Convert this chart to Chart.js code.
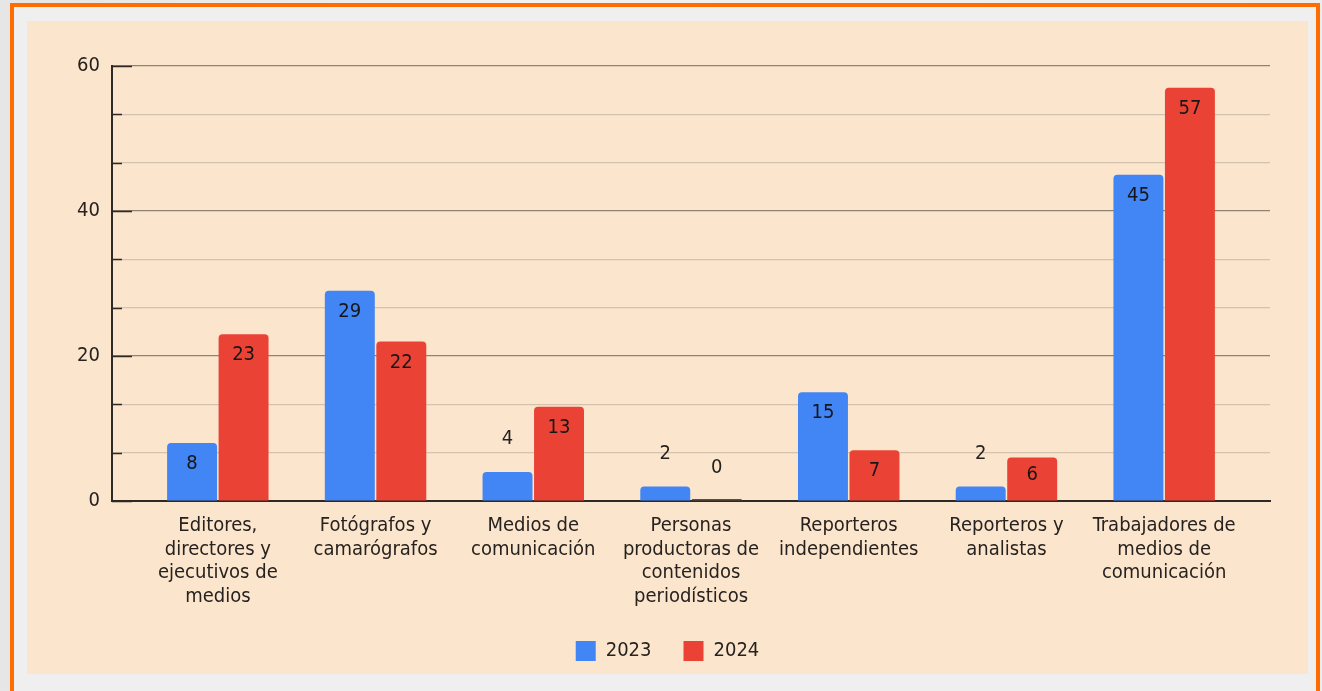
<!DOCTYPE html>
<html>
<head>
<meta charset="utf-8">
<script src="https://cdn.jsdelivr.net/npm/chart.js@4/dist/chart.umd.min.js"></script>
<style>
  html, body { margin: 0; padding: 0; }
  body { width: 1322px; height: 691px; overflow: hidden; position: relative;
    background: linear-gradient(90deg, #e6e6e6 0%, #f2f2f2 40%, #ededed 100%); }
  .frame { position: absolute; left: 10px; top: 3px; width: 1310px; height: 740px;
    box-sizing: border-box; border: 4px solid #ff6d00; background: #efefef; }
  .panel { position: absolute; left: 27px; top: 21px; width: 1281px; height: 653px; background: #fce5cd; }
</style>
</head>
<body>
<div class="frame"></div>
<div class="panel"><canvas id="chart"></canvas></div>
<script>
// ─── Data ──────────────────────────────────────────────────────────────────
const CATEGORIES = [
  ['Editores,', 'directores y', 'ejecutivos de', 'medios'],
  ['Fotógrafos y', 'camarógrafos'],
  ['Medios de', 'comunicación'],
  ['Personas', 'productoras de', 'contenidos', 'periodísticos'],
  ['Reporteros', 'independientes'],
  ['Reporteros y', 'analistas'],
  ['Trabajadores de', 'medios de', 'comunicación'],
];
const SERIES_NAMES = ['2023', '2024'];
const VALUES_2023 = [8, 29, 4, 2, 15, 2, 45];
const VALUES_2024 = [23, 22, 13, 0, 7, 6, 57];
const Y_MAJOR_TICKS = [0, 20, 40, 60];
const Y_MINOR_PER_MAJOR = 3;

// ─── Style ─────────────────────────────────────────────────────────────────
const FONT = "'DejaVu Sans Condensed', 'DejaVu Sans', sans-serif";
const BLUE = '#4285f4';
const RED = '#ea4335';
const ZERO_BAR = '#5e4f42';
const AXIS = '#2e2925';
const GRID_MAJOR = '#8f8374';
const GRID_MINOR = '#d3c2ad';
const TEXT = '#26221f';

Chart.defaults.font.family = FONT;
Chart.defaults.font.size = 20;
Chart.defaults.color = TEXT;

const toPoints = vals => vals.map((v, i) => ({ x: i, y: v }));

// dark tick stubs along the y axis + value labels
const extrasPlugin = {
  id: 'extras',
  afterDatasetsDraw(chart) {
    const { ctx, chartArea, scales: { y } } = chart;
    ctx.save();
    ctx.strokeStyle = AXIS;
    ctx.lineWidth = 1.5;
    y.ticks.forEach(t => {
      const py = Math.round(y.getPixelForValue(t.value)) + 0.5;
      ctx.beginPath();
      ctx.moveTo(chartArea.left, py);
      ctx.lineTo(chartArea.left + (t.major ? 20 : 10), py);
      ctx.stroke();
    });
    ctx.font = `20px ${FONT}`;
    ctx.textAlign = 'center';
    ctx.textBaseline = 'middle';
    chart.data.datasets.forEach((ds, di) => {
      chart.getDatasetMeta(di).data.forEach((bar, i) => {
        const v = ds.data[i].y;
        const base = y.getPixelForValue(0);
        const top = y.getPixelForValue(v);
        const h = base - top;
        let ty;
        if (v >= 5) { ty = top + Math.min(21, h * 0.4); ctx.fillStyle = '#161616'; }
        else { ty = top - 33; ctx.fillStyle = TEXT; }
        ctx.fillText(String(v), bar.x, ty);
      });
    });
    ctx.restore();
  }
};

new Chart(document.getElementById('chart'), {
  type: 'bar',
  data: {
    datasets: [
      { label: SERIES_NAMES[0], data: toPoints(VALUES_2023), backgroundColor: BLUE },
      { label: SERIES_NAMES[1], data: toPoints(VALUES_2024),
        backgroundColor: c => (c.raw && c.raw.y === 0 ? ZERO_BAR : RED) },
    ]
  },
  options: {
    responsive: true, maintainAspectRatio: false, animation: false,
    layout: { padding: { left: 38, right: 38, top: 45, bottom: 3 } },
    datasets: { bar: {
      categoryPercentage: 0.653, barPercentage: 0.97, minBarLength: 2,
      borderRadius: { topLeft: 4, topRight: 4 }, borderSkipped: 'bottom', borderWidth: 0,
    } },
    plugins: {
      legend: { position: 'bottom', labels: { boxWidth: 20, boxHeight: 20, padding: 32, color: TEXT, font: { size: 20 } } },
      tooltip: { enabled: false },
    },
    scales: {
      x: {
        type: 'linear', min: -0.671, max: 6.671, offset: false,
        afterBuildTicks: s => { s.ticks = CATEGORIES.map((_, i) => ({ value: i })); },
        afterFit: s => { s.height = 108; },
        grid: { display: false, drawTicks: false },
        border: { display: true, color: AXIS, width: 2 },
        ticks: { autoSkip: false, maxRotation: 0, padding: 13, color: TEXT,
          font: { size: 20, lineHeight: 1.18 },
          callback: v => CATEGORIES[v] },
      },
      y: {
        min: 0, max: 60,
        afterBuildTicks: s => {
          const ticks = [];
          const step = (Y_MAJOR_TICKS[1] - Y_MAJOR_TICKS[0]) / Y_MINOR_PER_MAJOR;
          Y_MAJOR_TICKS.forEach((m, k) => {
            ticks.push({ value: m, major: true });
            if (k < Y_MAJOR_TICKS.length - 1)
              for (let j = 1; j < Y_MINOR_PER_MAJOR; j++) ticks.push({ value: m + j * step, major: false });
          });
          s.ticks = ticks;
        },
        afterFit: s => { s.width = 47; },
        grid: { drawTicks: false, color: c => (c.tick && c.tick.major ? GRID_MAJOR : GRID_MINOR), lineWidth: 1.2 },
        border: { display: true, color: AXIS, width: 2 },
        ticks: { padding: 12, color: TEXT, font: { size: 20 },
          callback: (v, i, ticks) => (ticks[i].major ? String(v) : '') },
      }
    }
  },
  plugins: [extrasPlugin]
});
</script>
</body>
</html>
